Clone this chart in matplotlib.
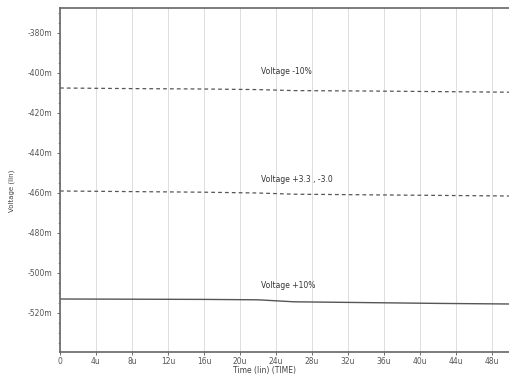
import numpy as np
import matplotlib.pyplot as plt

# Time points (us) and node voltages (mV)
t_us = [0, 8, 16, 22, 26, 34, 42, 50]
v_minus10 = [-407.5, -407.8, -408.0, -408.3, -408.8, -409.0, -409.3, -409.6]
v_nominal = [-459.0, -459.3, -459.6, -460.0, -460.6, -460.9, -461.2, -461.5]
v_plus10 = [-513.0, -513.1, -513.2, -513.4, -514.4, -514.8, -515.2, -515.5]

labels = ['Voltage -10%', 'Voltage +3.3 , -3.0', 'Voltage +10%']
label_y = [-399.5, -453.0, -506.5]

x_ticks = list(range(0, 49, 4))
x_ticklabels = ['0'] + ['%du' % v for v in x_ticks[1:]]
y_ticks = list(range(-520, -379, 20))
y_ticklabels = ['%dm' % v for v in y_ticks]

fig = plt.figure(figsize=(5.09, 3.76), dpi=100)
ax = fig.add_axes([60 / 509, 24 / 376, 449 / 509, 344 / 376])

line_col = '#555555'
ax.plot(t_us, v_minus10, color=line_col, lw=0.9, ls=(0, (3, 2.5)))
ax.plot(t_us, v_nominal, color=line_col, lw=0.9, ls=(0, (3, 2.5)))
ax.plot(t_us, v_plus10, color=line_col, lw=1.0)

for txt, yy in zip(labels, label_y):
    ax.text(22.3, yy, txt, fontsize=5.5, color='#333333', va='center', ha='left')

ax.set_xlim(0, 49.9)
ax.set_ylim(-539.5, -367.5)
ax.set_xticks(x_ticks)
ax.set_xticklabels(x_ticklabels)
ax.set_yticks(y_ticks)
ax.set_yticklabels(y_ticklabels)
ax.set_yticks(np.arange(-535, -369, 5), minor=True)
ax.tick_params(axis='both', labelsize=5.5, colors='#555555', length=2, width=0.6)
ax.tick_params(axis='x', pad=1.5)
ax.tick_params(axis='y', which='minor', length=1.2, width=0.5, colors='#777777')
ax.grid(True, axis='x', color='#d8d8d8', lw=0.6)

for side in ['left', 'top', 'bottom']:
    ax.spines[side].set_color('#666666')
    ax.spines[side].set_linewidth(1.2)
ax.spines['right'].set_visible(False)

ax.set_xlabel('Time (lin) (TIME)', fontsize=5.5, color='#444444')
ax.xaxis.set_label_coords(0.455, -0.04)
ax.set_ylabel('Voltage (lin)', fontsize=5, color='#444444')
ax.yaxis.set_label_coords(-0.1, 0.47)

fig.savefig('out.png', dpi=100)
